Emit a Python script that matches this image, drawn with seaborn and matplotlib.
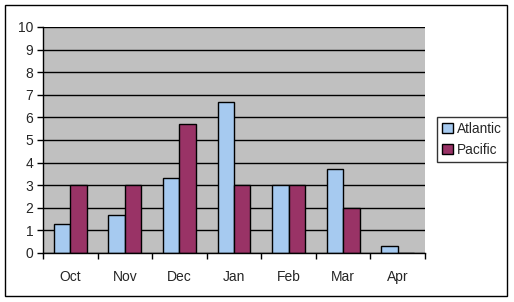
import matplotlib
matplotlib.use("Agg")
import matplotlib.pyplot as plt
import seaborn as sns
import pandas as pd
import numpy as np
from matplotlib.patches import Rectangle
from matplotlib.ticker import FixedLocator

months = ["Oct", "Nov", "Dec", "Jan", "Feb", "Mar", "Apr"]
atlantic = [1.3, 1.7, 3.3, 6.7, 3.0, 3.7, 0.3]
pacific = [3.0, 3.0, 5.7, 3.0, 3.0, 2.0, 0.0]
series = ["Atlantic", "Pacific"]
colors = ["#A6CAF0", "#993366"]

df = pd.DataFrame({
    "month": months * 2,
    "value": atlantic + pacific,
    "series": [series[0]] * len(months) + [series[1]] * len(months),
})

sns.set_style("white")
plt.rcParams["font.family"] = ["Liberation Sans", "DejaVu Sans"]

fig = plt.figure(figsize=(5.14, 3.02), dpi=100)
ax = fig.add_axes([43 / 514, 49 / 302, 382 / 514, 226 / 302])
ax.set_facecolor("#C0C0C0")

sns.barplot(data=df, x="month", y="value", hue="series", order=months,
            hue_order=series, palette=colors, width=0.6, dodge=True,
            edgecolor="black", linewidth=1, saturation=1, ax=ax, legend=False)

ax.set_xlim(-0.5, len(months) - 0.5)
ax.set_ylim(0, 10)
ax.set_yticks(range(0, 11))
ax.yaxis.grid(True, color="black", linewidth=1)
ax.set_axisbelow(True)
ax.set_xlabel("")
ax.set_ylabel("")

for s in ["top", "right"]:
    ax.spines[s].set_visible(False)
for s in ["left", "bottom"]:
    ax.spines[s].set_color("black")
    ax.spines[s].set_linewidth(1)

ax.tick_params(axis="y", which="major", direction="out", length=4, width=1,
               color="black", labelsize=10, pad=3, left=True)
ax.tick_params(axis="x", which="major", length=0, labelsize=10, pad=12)
ax.xaxis.set_minor_locator(FixedLocator(np.arange(-0.5, len(months), 1.0)))
ax.tick_params(axis="x", which="minor", direction="out", length=4, width=1,
               color="black", bottom=True)

handles = [Rectangle((0, 0), 1, 1, facecolor=c, edgecolor="black", linewidth=1)
           for c in colors]
leg = fig.legend(handles, series, loc="center left",
                 bbox_to_anchor=(437 / 514, 1 - 139.5 / 302),
                 frameon=True, fancybox=False, fontsize=9.8,
                 handlelength=0.75, handleheight=0.75, handletextpad=0.3,
                 borderpad=0.4, labelspacing=0.5, borderaxespad=0)
leg.get_frame().set_edgecolor("black")
leg.get_frame().set_linewidth(1)

fig.patches.append(Rectangle((5 / 514, 6 / 302), 502 / 514, 291 / 302,
                             transform=fig.transFigure, fill=False,
                             edgecolor="black", linewidth=1))

fig.savefig("out.png", dpi=100)
